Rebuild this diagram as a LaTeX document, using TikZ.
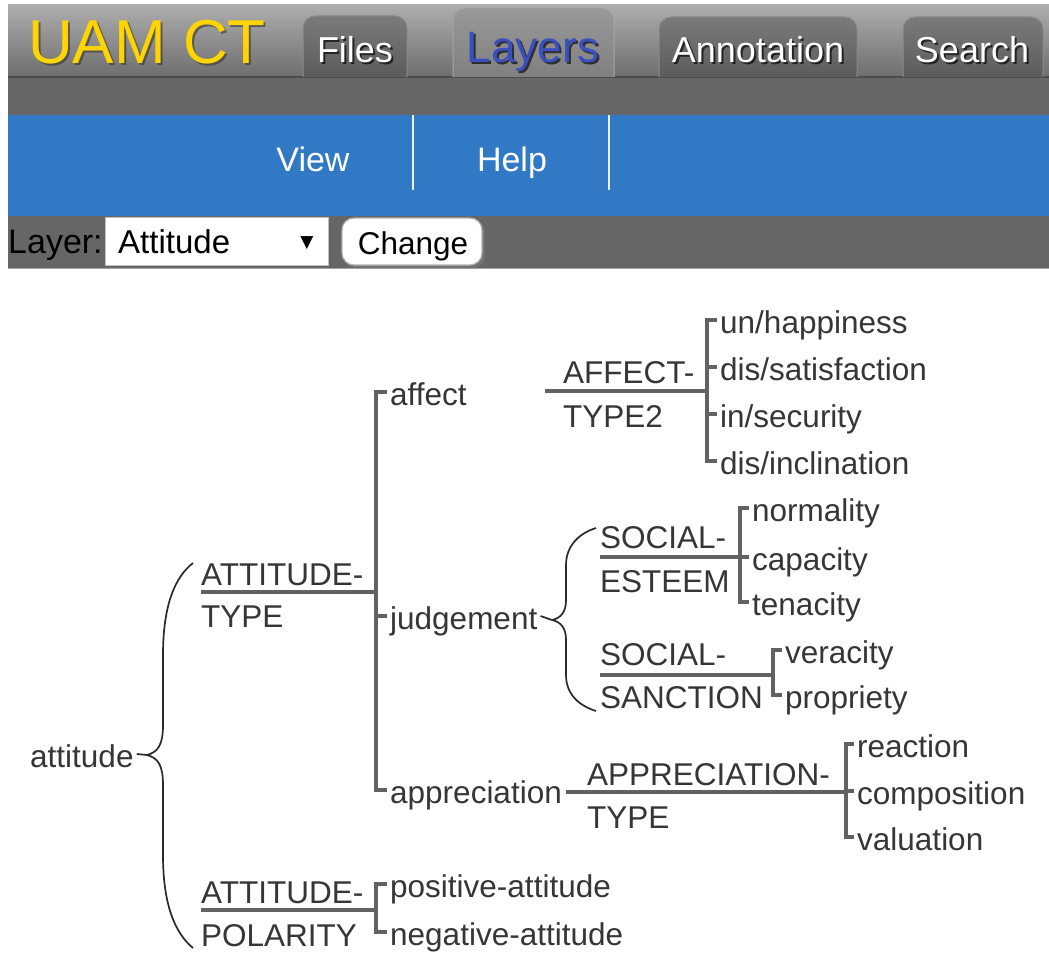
\documentclass[tikz,border=0pt]{standalone}
\usepackage{fontspec}
\setmainfont{Liberation Sans}
\newfontfamily\symfont{DejaVu Sans}
\usetikzlibrary{calc}
\definecolor{barblue}{HTML}{3179C5}
\definecolor{bandgrey}{HTML}{666666}
\definecolor{txtc}{HTML}{363636}
\definecolor{linec}{HTML}{626262}
\definecolor{bracec}{HTML}{2A2A2A}
\definecolor{uamyellow}{HTML}{FFD400}
\definecolor{layblue}{HTML}{3C4FC0}
\tikzset{
  tree/.style={draw=linec, line width=3.3pt},
  brace/.style={draw=bracec, line width=1.7pt},
  lbl/.style={anchor=base west, inner sep=0pt, font=\fontsize{31.5}{36}\selectfont, text=txtc},
  item/.style={lbl, inner xsep=3pt, inner ysep=0pt, text height=26pt, text depth=0pt},
  tabface/.style={draw=black!45, line width=1pt, rounded corners=12pt},
  tabtext/.style={anchor=base, inner sep=0pt, font=\fontsize{36}{40}\selectfont},
  shadowtext/.style={text=black, opacity=.65},
  menutext/.style={anchor=base, inner sep=0pt, font=\fontsize{34}{38}\selectfont, text=white},
}
\begin{document}
\begin{tikzpicture}[x=1pt,y=-1pt]
\useasboundingbox[fill=white] (0,0) rectangle (1049,955);

% ---------- header bars ----------
\fill[top color=black!32, bottom color=black!57] (8,5) rectangle (1049,77);
\fill[bandgrey] (8,77) rectangle (1049,216);
\draw[black!70, line width=1.2pt] (8,77) -- (1049,77);
\fill[barblue] (8,115) rectangle (1049,216);
\fill[bandgrey] (8,216) rectangle (1049,268);
\draw[black!35, line width=1.5pt] (8,268.5) -- (1049,268.5);

% title
\node[anchor=base west, inner sep=0pt, font=\fontsize{62}{66}\selectfont, text=black!80, opacity=.6] (uams) at (30,66) {UAM CT};
\node[anchor=base west, inner sep=0pt, font=\fontsize{62}{66}\selectfont, text=uamyellow] (uam) at (28,64) {UAM CT};

% tabs
\path[tabface, top color=black!52, bottom color=black!64] (303,77) -- (303,16) -- (407,16) -- (407,77);
\path[tabface, top color=black!40, bottom color=black!50, draw=black!35] (453,77) -- (453,8) -- (614,8) -- (614,77);
\path[tabface, top color=black!52, bottom color=black!64] (659,77) -- (659,17) -- (857,17) -- (857,77);
\path[tabface, top color=black!52, bottom color=black!64] (903,77) -- (903,17) -- (1043,17) -- (1043,77);

\node[tabtext, shadowtext] (filess) at (357,65) {Files};
\node[tabtext, text=white] (files) at (355,63) {Files};
\node[tabtext, shadowtext, font=\fontsize{44}{48}\selectfont] (layerss) at (535,65) {Layers};
\node[tabtext, text=layblue, font=\fontsize{44}{48}\selectfont] (layers) at (533,63) {Layers};
\node[tabtext, shadowtext] (annots) at (760,65) {Annotation};
\node[tabtext, text=white] (annot) at (758,63) {Annotation};
\node[tabtext, shadowtext] (searchs) at (974,65) {Search};
\node[tabtext, text=white] (search) at (972,63) {Search};

% menu
\node[menutext] (view) at (313,171) {View};
\node[menutext] (help) at (512,171) {Help};
\draw[white, opacity=.9, line width=1.3pt] (413,115) -- (413,190);
\draw[white, opacity=.9, line width=1.3pt] (609,115) -- (609,190);

% layer chooser
\node[anchor=base west, inner sep=0pt, font=\fontsize{34}{38}\selectfont, text=black] (layerlbl) at (8,253) {Layer:};
\draw[fill=white, draw=black!25, line width=1pt] (105,217) rectangle (328,265);
\node[anchor=base west, inner sep=0pt, font=\fontsize{33}{38}\selectfont, text=black] (sel) at (118,253) {Attitude};
\node[anchor=base, inner sep=0pt, font=\symfont\fontsize{17}{20}\selectfont, text=black] (arrow) at (307,247) {▼};
\draw[fill=black!55, draw=none, rounded corners=12pt] (344,220) rectangle (485,268);
\draw[fill=white, draw=black!30, line width=1.2pt, rounded corners=12pt] (342,218) rectangle (482,265);
\node[anchor=base, inner sep=0pt, font=\fontsize{31.5}{36}\selectfont, text=black] (chg) at (413,254) {Change};

% ---------- system network ----------
% root
\node[item] (att) at (27,767) {attitude};

% ATTITUDE-TYPE system
\node[lbl] (atA) at (201,585) {ATTITUDE-};
\node[lbl] (atB) at (201,627) {TYPE};
\coordinate (s0) at (201,592);
\coordinate (j0) at (376,592);
\node[item] (affect) at (387,405) {affect};
\node[item] (judg) at (387,629) {judgement};
\node[item] (appr) at (387,803) {appreciation};

% ATTITUDE-POLARITY system
\node[lbl] (apA) at (201,903) {ATTITUDE-};
\node[lbl] (apB) at (201,946) {POLARITY};
\coordinate (s5) at (201,910);
\coordinate (j5) at (376,910);
\node[item] (pos) at (387,897) {positive-attitude};
\node[item] (neg) at (387,945) {negative-attitude};

% AFFECT-TYPE2 system
\node[lbl] (afA) at (563,383) {AFFECT-};
\node[lbl] (afB) at (563,427) {TYPE2};
\coordinate (s1) at (545,391);
\coordinate (j1) at (707,391);
\node[item] (hap) at (717,333) {un/happiness};
\node[item] (sat) at (717,380) {dis/satisfaction};
\node[item] (sec) at (717,427) {in/security};
\node[item] (inc) at (717,474) {dis/inclination};

% SOCIAL-ESTEEM system
\node[lbl] (seA) at (600,548) {SOCIAL-};
\node[lbl] (seB) at (600,592) {ESTEEM};
\coordinate (s2) at (600,557);
\coordinate (j2) at (740,557);
\node[item] (nor) at (749,521) {normality};
\node[item] (cap) at (749,570) {capacity};
\node[item] (ten) at (749,615) {tenacity};

% SOCIAL-SANCTION system
\node[lbl] (ssA) at (600,665) {SOCIAL-};
\node[lbl] (ssB) at (600,708) {SANCTION};
\coordinate (s3) at (600,675);
\coordinate (j3) at (773,675);
\node[item] (ver) at (782,663) {veracity};
\node[item] (pro) at (782,708) {propriety};

% APPRECIATION-TYPE system
\node[lbl] (apprA) at (587,785) {APPRECIATION-};
\node[lbl] (apprB) at (587,828) {TYPE};
\coordinate (s4) at (566,792);
\coordinate (j4) at (846,792);
\node[item] (rea) at (854,757) {reaction};
\node[item] (com) at (854,804) {composition};
\node[item] (val) at (854,850) {valuation};

% system lines and brackets
\draw[tree] (s0) -- (j0);
\draw[tree] (affect.west) -- (affect.west -| j0) -- (appr.west -| j0) -- (appr.west);
\draw[tree] (judg.west -| j0) -- (judg.west);

\draw[tree] (s5) -- (j5);
\draw[tree] (pos.west) -- (pos.west -| j5) -- (neg.west -| j5) -- (neg.west);

\draw[tree] (s1) -- (j1);
\draw[tree] (hap.west) -- (hap.west -| j1) -- (inc.west -| j1) -- (inc.west);
\draw[tree] (sat.west -| j1) -- (sat.west);
\draw[tree] (sec.west -| j1) -- (sec.west);

\draw[tree] (s2) -- (j2);
\draw[tree] (nor.west) -- (nor.west -| j2) -- (ten.west -| j2) -- (ten.west);
\draw[tree] (cap.west -| j2) -- (cap.west);

\draw[tree] (s3) -- (j3);
\draw[tree] (ver.west) -- (ver.west -| j3) -- (pro.west -| j3) -- (pro.west);

\draw[tree] (s4) -- (j4);
\draw[tree] (rea.west) -- (rea.west -| j4) -- (val.west -| j4) -- (val.west);
\draw[tree] (com.west -| j4) -- (com.west);

% conjunctive braces
\coordinate (t0) at (147,755);
\draw[brace] (att.east) -- (t0);
\draw[brace] (t0) .. controls (158,752) and (163,745) .. (163,725) -- (163,655)
  .. controls (163,605) and (175,577) .. (193,563);
\draw[brace] (t0) .. controls (158,758) and (163,765) .. (163,785) -- (163,855)
  .. controls (163,905) and (175,933) .. (193,948);

\coordinate (t1) at (552,620);
\draw[brace] (judg.east) -- (t1);
\draw[brace] (t1) .. controls (561,618) and (566,612) .. (566,600) -- (566,565)
  .. controls (566,545) and (580,533) .. (596,528);
\draw[brace] (t1) .. controls (561,622) and (566,628) .. (566,640) -- (566,675)
  .. controls (566,695) and (580,706) .. (596,711);
\end{tikzpicture}
\end{document}
